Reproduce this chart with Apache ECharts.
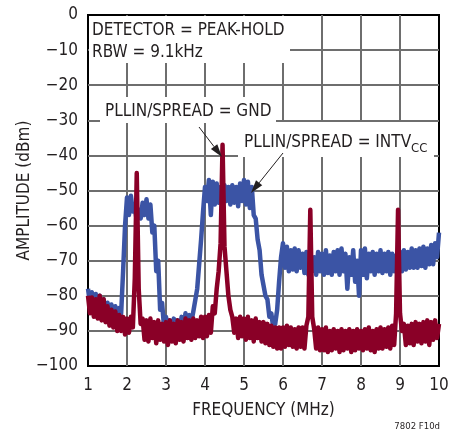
<!DOCTYPE html>
<html>
<head>
<meta charset="utf-8">
<script src="https://cdn.jsdelivr.net/npm/echarts@6/dist/echarts.min.js"></script>
<style>
  html, body { margin: 0; padding: 0; background: #fff; }
  #chart { width: 466px; height: 433px; }
</style>
</head>
<body>
<div id="chart"></div>
<script>
// sweep starts at 1 MHz, one sample every 0.05 MHz
var startFreq = 1;
var freqStep = 0.05;

// PLLIN/SPREAD = INTVcc (spread spectrum), dBm
var spreadDbm = [
  -78, -82, -79, -83, -79.5, -84, -80, -84.5, -81, -85.5,
  -82, -86, -82.5, -86, -83, -87, -83.5, -85, -73, -60,
  -52, -57, -51.5, -56, -55, -58.5, -55.5, -58, -53.5, -57,
  -52.5, -58, -54, -62, -60, -73, -70, -84, -82, -89,
  -86, -89, -87, -90, -86.5, -89.5, -87, -90, -86, -89,
  -85, -88, -85.5, -87.5, -84.5, -84, -78, -71, -64, -56,
  -49, -53, -47, -57, -47.5, -54, -48, -53.5, -49, -54,
  -48.5, -53, -49, -54, -48.5, -53.5, -49, -54.5, -48, -53,
  -47, -54, -47.5, -55, -49, -57, -58, -64, -67, -74,
  -74, -80, -81, -86, -85, -89, -88, -84, -76, -69,
  -65, -72, -66, -73, -67, -72.5, -66.5, -73, -67, -72,
  -68, -73.5, -67.5, -74, -68, -73, -69, -74, -67.5, -73,
  -68, -74, -67, -73.5, -68.5, -74, -67.5, -73, -67, -74,
  -66.5, -73, -68, -78, -69, -74, -67, -76, -70, -80,
  -67, -74, -66.5, -75, -68, -73, -67.5, -74, -68, -73,
  -67, -73.5, -68, -73, -67.5, -74, -68, -73, -68.5, -73.5,
  -67.5, -73, -67, -72.5, -67.5, -72, -66.5, -72, -67, -72,
  -66.5, -71.5, -66, -72, -66.5, -71, -65.5, -71, -65, -69,
  -62
];

// PLLIN/SPREAD = GND (fixed frequency), dBm
var fixedDbm = [
  -80, -85, -80.5, -86, -81, -86.5, -80, -87, -81, -87.5,
  -83, -88.5, -84, -89, -84.5, -90, -85.5, -90, -86, -91,
  -86.5, -90.5, -86, -89, -75, -45, -78, -88, -86.5, -92.5,
  -87, -93, -86.5, -92, -87.5, -93.5, -87, -92.5, -88, -93,
  -87.5, -94, -87, -93, -88, -93.5, -87, -92.5, -87.5, -93,
  -86.5, -92, -87, -92.5, -86.5, -92, -87, -91.5, -86, -92,
  -86, -91.5, -85.5, -90.5, -83, -85, -78, -73, -65, -37,
  -66, -73, -80, -84, -86, -90.5, -86.5, -92, -86, -91.5,
  -86.5, -92.5, -86, -92, -87, -93, -86.5, -92, -87.5, -93,
  -87.5, -93.5, -88, -94, -88.5, -94.5, -89, -95, -89, -95,
  -89, -94.5, -88.5, -94, -89, -94.5, -89.5, -95, -89, -94.5,
  -89, -95, -88.5, -86, -55.5, -86, -89.5, -95, -89, -95.5,
  -89.5, -95.5, -89, -96, -90, -95.5, -89.5, -95, -90, -96,
  -89.5, -95.5, -90, -95, -89.5, -96, -90, -95.5, -89.5, -95,
  -90, -95.5, -89.5, -95, -89, -95.5, -90, -96, -89.5, -95,
  -89, -95, -89.5, -94.5, -89, -95, -88.5, -94, -85, -55.5,
  -85, -90, -88, -94, -88.5, -93.5, -88, -94, -87.5, -93,
  -88, -93.5, -87.5, -93, -87, -94, -87.5, -92.5, -87, -92,
  -88
];

var xTicks = [1, 2, 3, 4, 5, 6, 7, 8, 9, 10];
var yTicks = [0, -10, -20, -30, -40, -50, -60, -70, -80, -90, -100];

var FONT = '"Liberation Sans Narrow", "Arial Narrow", "DejaVu Sans Condensed", Arial, sans-serif';
var INK = "#231f20";
var BLUE = "#3b54a5";
var RED = "#8a0027";

function pairs(values) {
  return values.map(function (v, i) {
    return [+(startFreq + i * freqStep).toFixed(2), v];
  });
}

function textWidth(str, size) {
  var ctx = document.createElement("canvas").getContext("2d");
  ctx.font = size + "px " + FONT;
  return ctx.measureText(str).width;
}

function arrow(x1, y1, x2, y2) {
  var dx = x2 - x1, dy = y2 - y1;
  var len = Math.sqrt(dx * dx + dy * dy);
  var ux = dx / len, uy = dy / len;
  var head = 13, half = 4;
  var bx = x2 - ux * head, by = y2 - uy * head;
  return [
    { type: "line", z: 100, shape: { x1: x1, y1: y1, x2: bx, y2: by }, style: { stroke: INK, lineWidth: 1 } },
    { type: "polygon", z: 100, shape: { points: [[x2, y2], [bx - uy * half, by + ux * half], [bx + uy * half, by - ux * half]] }, style: { fill: INK } }
  ];
}

// y is the baseline of the text
function label(str, x, y, size) {
  return { type: "text", z: 101, x: x, y: y - 0.31 * size, style: { text: str, font: size + "px " + FONT, fill: INK, verticalAlign: "middle" } };
}

function blank(x, y, w, h) {
  return { type: "rect", z: 99, shape: { x: x, y: y, width: w, height: h }, style: { fill: "#fff" } };
}

var intvText = "PLLIN/SPREAD = INTV";
var intvW = textWidth(intvText, 17);

var chart = echarts.init(document.getElementById("chart"));
chart.setOption({
  animation: false,
  grid: { left: 88, right: 27, top: 15, bottom: 67, show: true, borderColor: "#000", borderWidth: 2, backgroundColor: "#fff" },
  xAxis: {
    type: "value", min: xTicks[0], max: xTicks[xTicks.length - 1], interval: 1,
    name: "FREQUENCY (MHz)", nameLocation: "middle", nameGap: 36,
    nameTextStyle: { fontFamily: FONT, fontSize: 17, color: INK },
    axisLine: { show: false }, axisTick: { show: false },
    axisLabel: { fontFamily: FONT, fontSize: 17, color: INK, margin: 11 },
    splitLine: { show: true, showMinLine: false, showMaxLine: false, lineStyle: { color: "#6e6e6e", width: 2 } }
  },
  yAxis: {
    type: "value", min: yTicks[yTicks.length - 1], max: yTicks[0], interval: 10,
    name: "AMPLITUDE (dBm)", nameLocation: "middle", nameGap: 55, nameMoveOverlap: false,
    nameTextStyle: { fontFamily: FONT, fontSize: 17, color: INK },
    axisLine: { show: false }, axisTick: { show: false },
    axisLabel: {
      fontFamily: FONT, fontSize: 17, color: INK, margin: 10,
      formatter: function (v) { return v < 0 ? "\u2212" + (-v) : String(v); }
    },
    splitLine: { show: true, showMinLine: false, showMaxLine: false, lineStyle: { color: "#6e6e6e", width: 2 } }
  },
  series: [
    {
      name: "PLLIN/SPREAD = INTVCC", type: "line", data: pairs(spreadDbm), symbol: "none",
      sampling: "none", lineStyle: { color: BLUE, width: 4.5, join: "round" }, z: 2
    },
    {
      name: "PLLIN/SPREAD = GND", type: "line", data: pairs(fixedDbm), symbol: "none",
      sampling: "none", lineStyle: { color: RED, width: 4.5, join: "round" }, z: 3
    }
  ],
  graphic: [].concat(
    [
      blank(89, 16, 201, 47),
      blank(100, 97, 176, 26),
      blank(238, 122, 196, 35),
      label("DETECTOR = PEAK-HOLD", 92, 36, 17),
      label("RBW = 9.1kHz", 92, 58, 17),
      label("PLLIN/SPREAD = GND", 105, 117, 17),
      label(intvText, 244, 148, 17),
      label("CC", 244 + intvW, 153, 13),
      { type: "text", z: 101, right: 26, bottom: 1, style: { text: "7802 F10d", font: "9.5px " + FONT, fill: INK } }
    ],
    arrow(199, 127, 222, 157),
    arrow(283, 153, 251, 193)
  )
});
</script>
</body>
</html>
